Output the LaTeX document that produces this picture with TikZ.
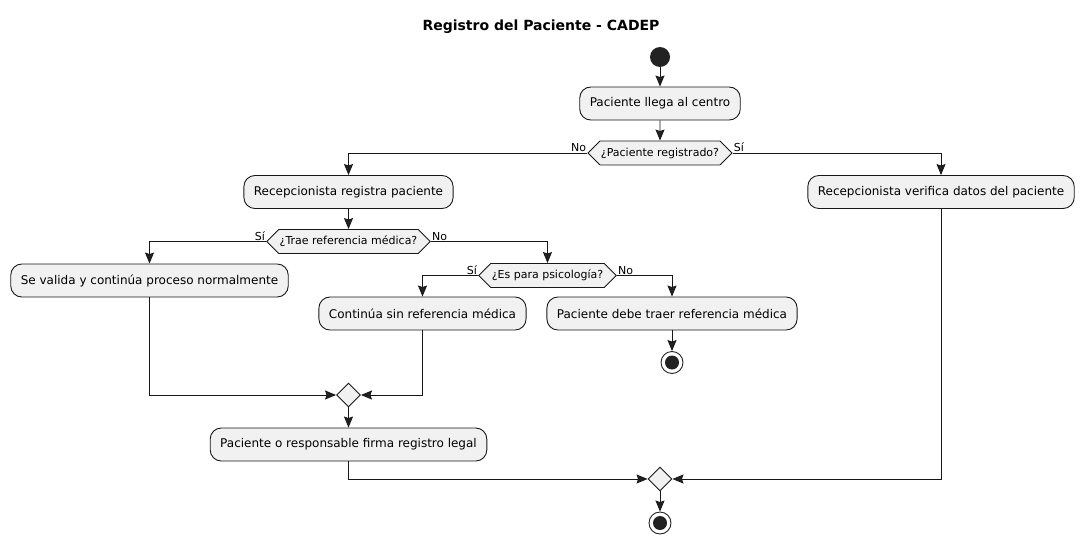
\documentclass[tikz,border=0pt]{standalone}
\usepackage{fontspec}
\setmainfont{DejaVu Sans}
\usetikzlibrary{arrows.meta,shapes.geometric,shapes.symbols}
\definecolor{boxfill}{HTML}{F1F1F1}
\definecolor{boxline}{HTML}{181818}
\definecolor{dark}{HTML}{222222}
\begin{document}
\begin{tikzpicture}[x=1pt,y=-1pt,
  act/.style={draw=boxline,fill=boxfill,line width=0.9pt,rounded corners=11pt,
    minimum height=33pt,inner xsep=10pt,font=\fontsize{12}{14}\selectfont},
  hexa/.style={draw=boxline,fill=boxfill,line width=0.9pt,shape=signal,
    signal to=west and east,signal pointer angle=90,minimum height=24pt,
    inner xsep=1pt,inner ysep=0pt,font=\fontsize{11}{13}\selectfont},
  merge/.style={draw=boxline,fill=boxfill,line width=0.9pt,diamond,
    minimum width=24pt,minimum height=24pt,inner sep=0pt},
  startnode/.style={circle,fill=dark,minimum size=20pt,inner sep=0pt},
  stopnode/.style={circle,draw=dark,line width=0.9pt,minimum size=22pt,inner sep=0pt,
    path picture={\fill[dark] (path picture bounding box.center) circle (7pt);}},
  flow/.style={draw=boxline,line width=0.9pt,-{Stealth[length=11pt,width=9pt,inset=1.5pt,fill=dark]}},
  lbl/.style={font=\fontsize{11}{13}\selectfont,inner sep=1pt},
]
\useasboundingbox (0,0) rectangle (1084,543);
\node[font=\bfseries\fontsize{14}{16}\selectfont] (title) at (541,27) {Registro del Paciente - CADEP};

\node[startnode] (start) at (660,57) {};
\node[act] (b1) at (660,103.5) {Paciente llega al centro};
\node[hexa] (d1) at (660,153) {¿Paciente registrado?};
\node[act] (b2) at (348.5,192) {Recepcionista registra paciente};
\node[act] (b3) at (941,192) {Recepcionista verifica datos del paciente};
\node[hexa] (d2) at (348.5,241.5) {¿Trae referencia médica?};
\node[act] (b4) at (149.5,280.5) {Se valida y continúa proceso normalmente};
\node[hexa] (d3) at (547.5,275.5) {¿Es para psicología?};
\node[act] (b5) at (422.5,313.5) {Continúa sin referencia médica};
\node[act] (b6) at (672,313.5) {Paciente debe traer referencia médica};
\node[stopnode] (stop1) at (672,362.5) {};
\node[merge] (m1) at (348.5,395) {};
\node[act] (b7) at (348.5,444.5) {Paciente o responsable firma registro legal};
\node[merge] (m2) at (660,479) {};
\node[stopnode] (stop2) at (660,523) {};

\draw[flow] (start) -- (b1);
\draw[flow] (b1) -- (d1);
\draw[flow] (d1.west) -| (b2.north);
\node[lbl,anchor=south east] (l1) at (d1.west) {No};
\draw[flow] (d1.east) -| (b3.north);
\node[lbl,anchor=south west] (l2) at (d1.east) {Sí};
\draw[flow] (b2) -- (d2);
\draw[flow] (d2.west) -| (b4.north);
\node[lbl,anchor=south east] (l3) at (d2.west) {Sí};
\draw[flow] (d2.east) -| (d3.north);
\node[lbl,anchor=south west] (l4) at (d2.east) {No};
\draw[flow] (d3.west) -| (b5.north);
\node[lbl,anchor=south east] (l5) at (d3.west) {Sí};
\draw[flow] (d3.east) -| (b6.north);
\node[lbl,anchor=south west] (l6) at (d3.east) {No};
\draw[flow] (b6) -- (stop1);
\draw[flow] (b4.south) |- (m1.west);
\draw[flow] (b5.south) |- (m1.east);
\draw[flow] (m1) -- (b7);
\draw[flow] (b7.south) |- (m2.west);
\draw[flow] (b3.south) |- (m2.east);
\draw[flow] (m2) -- (stop2);
\end{tikzpicture}
\end{document}
